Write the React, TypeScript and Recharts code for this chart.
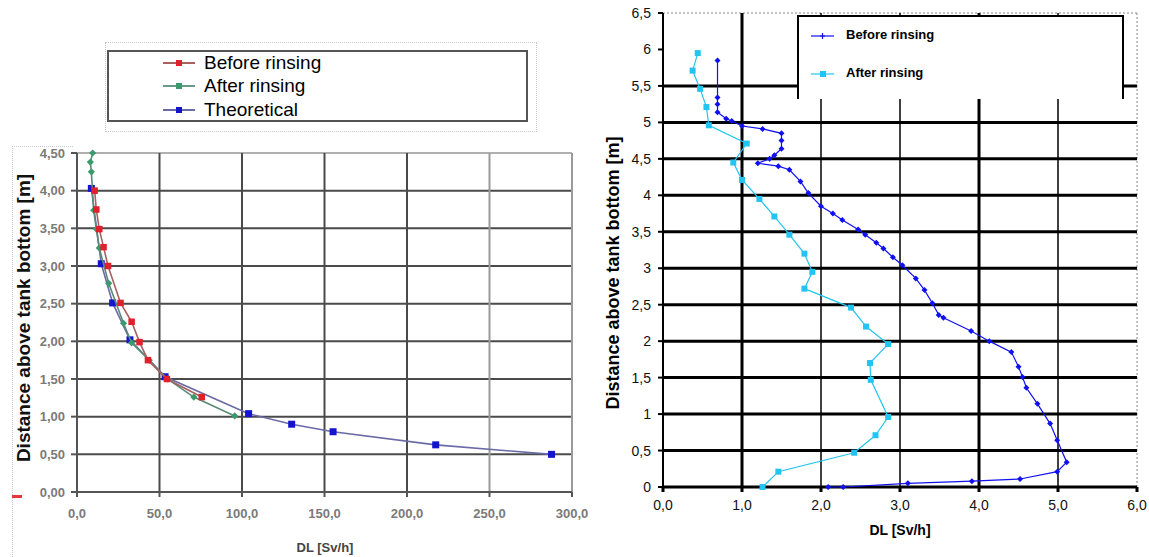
import {
  ScatterChart, Scatter, XAxis, YAxis, ReferenceLine,
} from "recharts";

// left panel: measured / theoretical dose rate vs. height
const leftBeforeDL = [10.7, 11.7, 13.5, 16.1, 18.8, 26.4, 33.1, 37.9, 43.0, 54.5, 75.6];
const leftBeforeH = [4.0, 3.75, 3.49, 3.25, 3.0, 2.51, 2.26, 1.99, 1.75, 1.5, 1.26];
const leftAfterDL = [9.5, 8.1, 8.7, 10.1, 11.7, 13.5, 19.2, 28.2, 33.1, 43.8, 54.8, 70.8, 95.6];
const leftAfterH = [4.5, 4.38, 4.25, 3.74, 3.49, 3.24, 2.77, 2.24, 1.98, 1.75, 1.5, 1.26, 1.01];
const leftTheoDL = [8.7, 14.7, 21.6, 32.1, 53.4, 104.0, 130.1, 155.2, 217.4, 287.6];
const leftTheoH = [4.03, 3.03, 2.51, 2.02, 1.53, 1.04, 0.9, 0.8, 0.626, 0.5];
const leftXTicks = [0, 50, 100, 150, 200, 250, 300];
const leftYTicks = [0, 0.5, 1, 1.5, 2, 2.5, 3, 3.5, 4, 4.5];

// right panel
const rightBeforeDL = [
  0.69, 0.69, 0.69, 0.69, 0.8, 0.87, 1.0, 1.26, 1.5, 1.5, 1.5, 1.41, 1.35, 1.2, 1.46, 1.6,
  1.74, 1.84, 2.0, 2.15, 2.27, 2.47, 2.56, 2.7, 2.79, 2.91, 3.03, 3.2, 3.31, 3.41, 3.49, 3.55,
  3.9, 4.13, 4.41, 4.5, 4.55, 4.6, 4.74, 4.9, 4.99, 5.11, 4.99, 4.52, 3.91, 3.1, 2.28, 2.09,
];
const rightBeforeH = [
  5.85, 5.34, 5.25, 5.14, 5.05, 5.02, 4.95, 4.91, 4.85, 4.75, 4.64, 4.55, 4.5, 4.44, 4.4, 4.35,
  4.19, 4.03, 3.85, 3.75, 3.66, 3.53, 3.46, 3.35, 3.27, 3.15, 3.04, 2.86, 2.7, 2.52, 2.36, 2.32,
  2.14, 2.0, 1.85, 1.65, 1.51, 1.36, 1.14, 0.87, 0.64, 0.34, 0.21, 0.11, 0.08, 0.05, 0.0, 0.0,
];
const rightAfterDL = [
  0.44, 0.375, 0.47, 0.55, 0.58, 1.06, 0.89, 1.0, 1.22, 1.41, 1.6, 1.79, 1.89, 1.79, 2.38,
  2.57, 2.85, 2.62, 2.63, 2.85, 2.69, 2.42, 1.46, 1.26,
];
const rightAfterH = [
  5.95, 5.71, 5.46, 5.21, 4.96, 4.71, 4.45, 4.21, 3.95, 3.71, 3.46, 3.2, 2.95, 2.72, 2.46,
  2.2, 1.96, 1.7, 1.47, 0.96, 0.71, 0.47, 0.21, 0.0,
];
const rightXTicks = [0, 1, 2, 3, 4, 5, 6];
const rightYTicks = [0, 0.5, 1, 1.5, 2, 2.5, 3, 3.5, 4, 4.5, 5, 5.5, 6, 6.5];
const rightHGrid = [0.5, 1, 1.5, 2, 2.5, 3, 3.5, 4, 4.5, 5, 5.5];
const rightVGrid = [1, 2, 3, 4, 5];

const pts = (xs: number[], ys: number[]) => xs.map((x, i) => ({ x, y: ys[i] }));

const square = (s: number, fill: string) => (p: any) =>
  <rect x={p.cx - s / 2} y={p.cy - s / 2} width={s} height={s} fill={fill} />;
const diamond = (s: number, fill: string) => (p: any) =>
  <path d={`M${p.cx},${p.cy - s}L${p.cx + s},${p.cy}L${p.cx},${p.cy + s}L${p.cx - s},${p.cy}Z`} fill={fill} />;

const commaFix = (d: number) => (v: number) => v.toFixed(d).replace(".", ",");
const commaPlain = (v: number) => String(v).replace(".", ",");

const leftTick = { fill: "#7a7a7a", fontSize: 13, fontWeight: 700 };
const rightTick = { fill: "#111", fontSize: 14 };

const LeftLegendRow = ({ color, line, label, top }: any) => (
  <div style={{ position: "absolute", left: 54, top, height: 22, display: "flex", alignItems: "center" }}>
    <svg width={32} height={10}>
      <line x1={0} y1={5} x2={32} y2={5} stroke={line} strokeWidth={2} />
      <rect x={13} y={2} width={6} height={6} fill={color} />
    </svg>
    <span style={{ marginLeft: 9, fontSize: 19, color: "#000" }}>{label}</span>
  </div>
);

export default function App() {
  return (
    <div style={{ position: "absolute", left: 0, top: 0, width: 1149, height: 557, background: "#fff", fontFamily: '"Liberation Sans", Arial, sans-serif', overflow: "hidden" }}>
      {/* left panel frame bits */}
      <div style={{ position: "absolute", left: 105, top: 42, width: 430, height: 88, border: "1px dotted #c8c8c8" }} />
      <div style={{ position: "absolute", left: 12, top: 146, width: 60, height: 420, borderLeft: "1px dotted #c8c8c8", borderTop: "1px dotted #c8c8c8" }} />
      <div style={{ position: "absolute", left: 12, top: 495, width: 10, height: 3, background: "#e03a3a" }} />

      <div style={{ position: "absolute", left: 0, top: 0 }}>
        <ScatterChart width={600} height={557} margin={{ top: 153, right: 28, bottom: 35, left: 0 }}>
          <XAxis type="number" dataKey="x" domain={[0, 300]} ticks={leftXTicks} tickFormatter={commaFix(1)}
            height={30} tick={leftTick} tickSize={5} tickMargin={12} stroke="#555" strokeWidth={2} />
          <YAxis type="number" dataKey="y" domain={[0, 4.5]} ticks={leftYTicks} tickFormatter={commaFix(2)}
            width={77} tick={leftTick} tickSize={6} tickMargin={6} stroke="#555" strokeWidth={2} />
          {leftYTicks.slice(1).map(v => (
            <ReferenceLine key={`ly${v}`} y={v} stroke={v === 4.5 ? "#b0b0b0" : "#4a4a4a"} strokeWidth={2} />
          ))}
          {leftXTicks.slice(1).map(v => (
            <ReferenceLine key={`lx${v}`} x={v} stroke={v >= 250 ? "#9a9a9a" : "#4a4a4a"} strokeWidth={2} />
          ))}
          <Scatter data={pts(leftTheoDL, leftTheoH)} line={{ stroke: "#6a6aa6", strokeWidth: 1.6 }} lineType="joint"
            shape={square(7, "#1414d0")} isAnimationActive={false} />
          <Scatter data={pts(leftAfterDL, leftAfterH)} line={{ stroke: "#5a8c78", strokeWidth: 1.6 }} lineType="joint"
            shape={diamond(3.6, "#3a9a6c")} isAnimationActive={false} />
          <Scatter data={pts(leftBeforeDL, leftBeforeH)} line={{ stroke: "#a86060", strokeWidth: 1.6 }} lineType="joint"
            shape={square(6.5, "#e0202c")} isAnimationActive={false} />
        </ScatterChart>
      </div>

      <div style={{ position: "absolute", left: 107, top: 50, width: 417, height: 68, border: "2px solid #555", background: "#fff" }}>
        <LeftLegendRow color="#e0202c" line="#a86060" label="Before rinsing" top={0} />
        <LeftLegendRow color="#3a9a6c" line="#6a9a88" label="After rinsing" top={23} />
        <LeftLegendRow color="#1414d0" line="#6a6aa6" label="Theoretical" top={47} />
      </div>

      <div style={{ position: "absolute", left: 24, top: 318, transform: "translate(-50%, -50%) rotate(-90deg)", whiteSpace: "nowrap", fontSize: 19, fontWeight: 700, color: "#111" }}>
        Distance above tank bottom [m]
      </div>
      <div style={{ position: "absolute", left: 325, top: 547, transform: "translate(-50%, -50%)", whiteSpace: "nowrap", fontSize: 13, fontWeight: 700, color: "#444" }}>
        DL [Sv/h]
      </div>

      {/* right panel */}
      <div style={{ position: "absolute", left: 590, top: 0 }}>
        <ScatterChart width={559} height={557} margin={{ top: 13, right: 12, bottom: 40, left: 0 }}>
          <XAxis type="number" dataKey="x" domain={[0, 6]} ticks={rightXTicks} tickFormatter={commaFix(1)}
            height={30} tick={rightTick} tickSize={5} tickMargin={8} stroke="#000" strokeWidth={3} />
          <YAxis type="number" dataKey="y" domain={[0, 6.5]} ticks={rightYTicks} tickFormatter={commaPlain}
            width={73} tick={rightTick} tickSize={5} tickMargin={7} stroke="#000" strokeWidth={2} />
          <ReferenceLine y={6.5} stroke="#888" strokeDasharray="2 2" />
          <ReferenceLine x={6} stroke="#888" strokeDasharray="2 2" />
          {rightHGrid.map(v => (
            <ReferenceLine key={`ry${v}`} y={v} stroke="#000" strokeWidth={3} />
          ))}
          {rightVGrid.map(v => (
            <ReferenceLine key={`rx${v}`} x={v} stroke="#000" strokeWidth={v === 1 || v === 4 ? 3 : 1.5} />
          ))}
          <Scatter data={pts(rightAfterDL, rightAfterH)} line={{ stroke: "#22c4f2", strokeWidth: 1.2 }} lineType="joint"
            shape={square(6, "#22c4f2")} isAnimationActive={false} />
          <Scatter data={pts(rightBeforeDL, rightBeforeH)} line={{ stroke: "#1010f0", strokeWidth: 1.2 }} lineType="joint"
            shape={diamond(3, "#1010f0")} isAnimationActive={false} />
        </ScatterChart>
      </div>

      <div style={{ position: "absolute", left: 797, top: 15, width: 323, height: 82, borderTop: "2px solid #000", borderLeft: "2px solid #000", borderRight: "2px solid #000", background: "#fff" }}>
        <div style={{ position: "absolute", left: 12, top: 10, display: "flex", alignItems: "center" }}>
          <svg width={24} height={10}>
            <line x1={0} y1={6} x2={23} y2={6} stroke="#1010f0" strokeWidth={1.2} />
            <path d="M11.5,3V9M9,6H14" stroke="#1010f0" strokeWidth={1.2} />
          </svg>
          <span style={{ marginLeft: 11, fontSize: 13, fontWeight: 700, color: "#000" }}>Before rinsing</span>
        </div>
        <div style={{ position: "absolute", left: 12, top: 48, display: "flex", alignItems: "center" }}>
          <svg width={24} height={10}>
            <line x1={0} y1={6} x2={23} y2={6} stroke="#22c4f2" strokeWidth={1.2} />
            <rect x={9} y={3} width={6} height={6} fill="#22c4f2" />
          </svg>
          <span style={{ marginLeft: 11, fontSize: 13, fontWeight: 700, color: "#000" }}>After rinsing</span>
        </div>
      </div>

      <div style={{ position: "absolute", left: 613, top: 273, transform: "translate(-50%, -50%) rotate(-90deg)", whiteSpace: "nowrap", fontSize: 18, fontWeight: 700, color: "#000" }}>
        Distance above tank bottom [m]
      </div>
      <div style={{ position: "absolute", left: 900, top: 530, transform: "translate(-50%, -50%)", whiteSpace: "nowrap", fontSize: 14, fontWeight: 700, color: "#000" }}>
        DL [Sv/h]
      </div>
    </div>
  );
}
